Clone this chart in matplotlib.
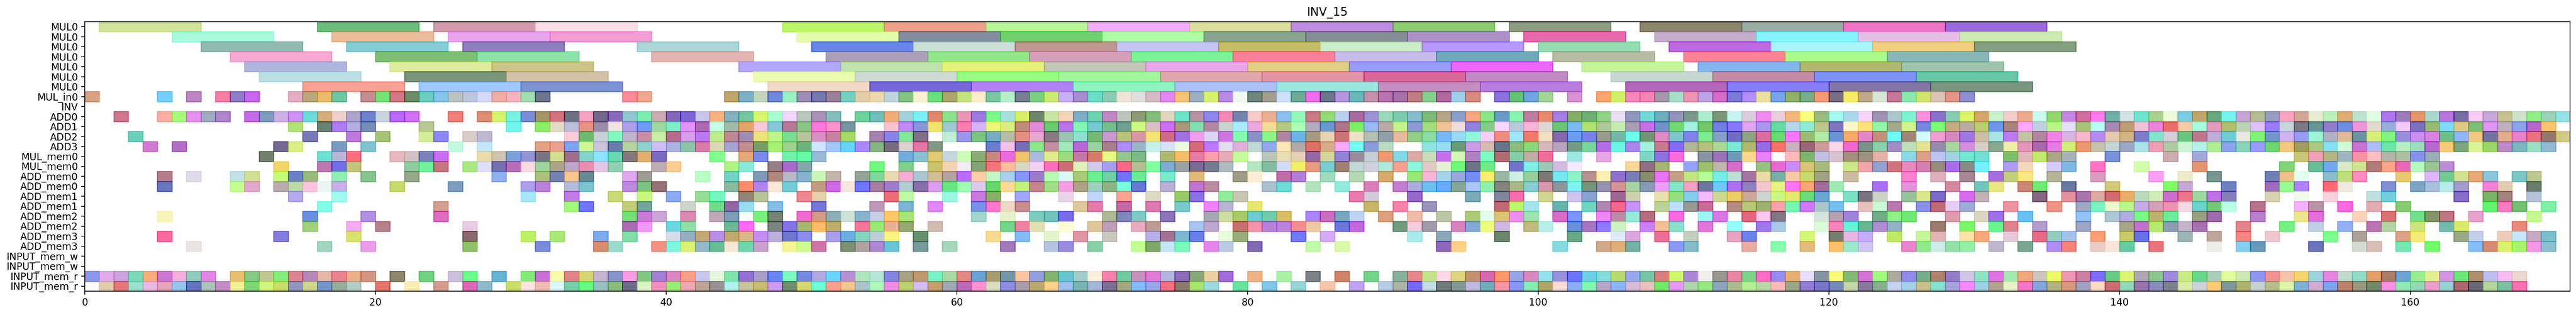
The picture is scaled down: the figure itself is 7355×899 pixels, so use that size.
import numpy as np
import matplotlib.pyplot as plt

# === Data (cycle numbers where each unit is busy) ===
row_labels = ['MUL0'] * 7 + [
    'MUL_in0', 'INV', 'ADD0', 'ADD1', 'ADD2', 'ADD3',
    'MUL_mem0', 'MUL_mem0', 'ADD_mem0', 'ADD_mem0', 'ADD_mem1', 'ADD_mem1',
    'ADD_mem2', 'ADD_mem2', 'ADD_mem3', 'ADD_mem3',
    'INPUT_mem_w', 'INPUT_mem_w', 'INPUT_mem_r', 'INPUT_mem_r',
]

mul_latency = 7
mul0_starts = [
    [1, 16, 24, 31, 48, 55, 62, 69, 76, 83, 90, 98, 107, 114, 121, 128],
    [6, 17, 25, 32, 49, 56, 63, 70, 77, 84, 91, 99, 108, 115, 122, 129],
    [8, 18, 26, 38, 50, 57, 64, 71, 78, 85, 92, 100, 109, 116, 123, 130],
    [10, 20, 27, 39, 51, 58, 65, 72, 79, 86, 93, 101, 110, 117, 124],
    [11, 21, 28, 45, 52, 59, 66, 73, 80, 87, 94, 103, 111, 118, 125],
    [12, 22, 29, 46, 53, 60, 67, 74, 81, 88, 95, 105, 112, 119, 126],
    [15, 23, 30, 47, 54, 61, 68, 75, 82, 89, 96, 106, 113, 120, 127],
]

# single-cycle ops, (a, b) means every cycle from a to b inclusive
mul_in0 = [0, 5, 7, (9, 11), (14, 17), (19, 31), 37, 38, (44, 95), (97, 100), 102, (104, 129)]
inv = []
add0 = [2, 5, 6, 7, 8, 9, (11, 22), 25, (27, 51), (53, 170)]
add1 = [14, 16, 17, 18, 19, 23, 29, (31, 52), (55, 169)]
add2 = [3, 15, 18, 20, 23, 24, 26, 27, (33, 52), (54, 57), (59, 170)]
add3 = [4, 6, 13, 14, 17, 19, 25, 27, (31, 58), (62, 89), (92, 169)]
mul_mem0_a = [12, 16, 17, 18, (21, 24), (27, 39), 43, 45, 46, 48, 49, 50, (56, 72), (74, 79),
              (81, 100), 102, 104, 107, 108, 109, (111, 115), (117, 123), (125, 130),
              (132, 136), 139, 143, 145, (152, 161)]
mul_mem0_b = [13, 16, 17, 18, 22, 23, 24, (26, 36), 39, 40, 44, 45, (47, 49), 54, 56, (58, 78),
              (80, 96), (98, 102), 106, 107, 108, (110, 113), (115, 119), (121, 130), 132, 133,
              135, 136, 138, 141, 145, 151, (153, 162)]
add_mem0_a = [5, 7, 10, 11, 13, 14, 15, 17, 19, 22, 28, (31, 34), 37, 38, 42, 44, (46, 51),
              (53, 72), 74, 76, 79, 80, 82, 83, 85, 87, 89, (91, 119), 121, 125, 127, 129, 131,
              132, 133, 135, 138, 142, 144, 146, 150, 151, 152, 154, 155, 156, 159, (161, 165),
              167, 168]
add_mem0_b = [5, 10, 11, (13, 17), 21, 25, 30, 31, 33, 34, 37, 38, 39, (44, 48), (50, 72), 74,
              76, 77, 81, 82, 84, 86, 88, (90, 120), 123, 125, 128, 130, 131, 133, 134, 136, 139,
              143, 144, 147, 150, 151, 152, 154, 155, 158, (160, 163), 165, 166, 168]
add_mem1_a = [14, 17, 30, 33, 36, 38, 40, 42, 43, 45, 46, 49, 50, 55, 56, 59, 61, 62, 64, 67,
              69, 71, 73, 75, 76, 78, 79, 87, 88, 91, 95, 97, 98, 100, 102, 103, 105, 106,
              (108, 119), (121, 123), (125, 127), 129, 130, 134, (136, 147), 150, 152, 154, 157,
              158, 163, 165, 166, 168]
add_mem1_b = [16, 24, 33, 34, 37, 38, 41, 43, 44, 45, 47, 50, 54, 56, 58, (61, 64), 68, 69, 71,
              73, 75, 77, 78, 80, 88, 90, 92, 97, 98, 99, 101, (103, 106), (108, 111), (113, 120),
              (122, 124), (126, 129), 132, 135, (137, 147), 149, 152, 153, 155, 157, 159, 165,
              166, 167, 169]
add_mem2_a = [5, 15, 19, 24, 37, 38, 39, 41, 43, 44, 46, 47, (49, 56), 61, 63, 65, 66, 67, 70,
              71, 72, 74, (77, 82), (84, 87), 89, 91, 93, (95, 99), 101, 102, (104, 107), 109,
              111, 112, (114, 116), (119, 121), (123, 125), 128, 130, 131, 133, 137, (139, 143),
              145, 146, 149, 152, 153, 156, 158, (160, 162), 164, 168]
add_mem2_b = [15, 18, 20, 26, 37, 38, 40, 41, 44, 45, (47, 51), (53, 56), 58, 63, 64, 65, 67,
              69, 70, 72, 73, 76, 77, (79, 84), 86, 87, 90, 91, 92, (94, 97), 99, 100, (102, 105),
              107, 108, 109, 111, 113, 115, 116, (119, 124), 127, 129, 131, 132, 134, 137,
              (140, 145), 148, 151, 153, 155, 157, 158, 160, 162, 163, 167]
add_mem3_a = [5, 13, 18, 26, 30, 32, 35, 37, (40, 49), (51, 55), 57, 62, 64, 66, 68, 70, (73, 76),
              78, 79, 83, 85, 91, 93, 97, 102, 105, 106, 108, 110, 113, 114, 118, (120, 122), 124,
              126, 127, 129, 130, 132, (134, 136), 138, 140, 141, 144, 146, 148, 150, 154, 156,
              159, 160, 163, 164, (166, 169)]
add_mem3_b = [7, 16, 19, 26, 31, 35, 36, (39, 46), 48, 49, 50, (52, 55), 57, 59, 63, 66, 67, 69,
              (72, 75), 77, 78, 80, 84, 86, 93, 94, 101, (104, 106), 109, 110, 114, 116, 118,
              (120, 122), (125, 129), 131, 133, 135, 136, (138, 140), 142, 146, 148, 149, 153,
              156, 157, 159, 161, (164, 169)]
input_mem_w_a = []
input_mem_w_b = []
input_mem_r_a = [(0, 8), (10, 19), 21, 23, 25, 26, 28, (30, 78), 80, 82, 84, 86, 88, (90, 167)]
input_mem_r_b = [(1, 18), 20, 22, 24, 26, 27, (29, 77), 79, 81, 83, 85, 87, (89, 167)]

unit_rows = [mul_in0, inv, add0, add1, add2, add3, mul_mem0_a, mul_mem0_b,
             add_mem0_a, add_mem0_b, add_mem1_a, add_mem1_b, add_mem2_a, add_mem2_b,
             add_mem3_a, add_mem3_b, input_mem_w_a, input_mem_w_b, input_mem_r_a, input_mem_r_b]
x_max = 171


def expand(spec):
    out = []
    for item in spec:
        if isinstance(item, tuple):
            out.extend(range(item[0], item[1] + 1))
        else:
            out.append(item)
    return out


# === Plot ===
fig = plt.figure(figsize=(36.775, 4.495), dpi=200)
ax = fig.add_axes([242 / 7355, 68 / 899, 7096 / 7355, 769 / 899])

rng = np.random.default_rng(15)  # random pastel colours, style only


def draw_row(y, starts, dur):
    if not starts:
        return
    cols = [(*rng.random(3), 0.6) for _ in starts]
    ax.barh([y] * len(starts), [dur] * len(starts), left=starts, height=1.0,
            color=cols, edgecolor=cols, linewidth=1.0)


for i, starts in enumerate(mul0_starts):
    draw_row(i, starts, mul_latency)
for j, spec in enumerate(unit_rows):
    draw_row(len(mul0_starts) + j, expand(spec), 1)

ax.set_yticks(np.arange(len(row_labels)))
ax.set_yticklabels(row_labels)
ax.set_ylim(len(row_labels) - 0.5, -0.5)
ax.set_xlim(0, x_max)
ax.set_title("INV_15")

plt.savefig("out.png", dpi=200)
